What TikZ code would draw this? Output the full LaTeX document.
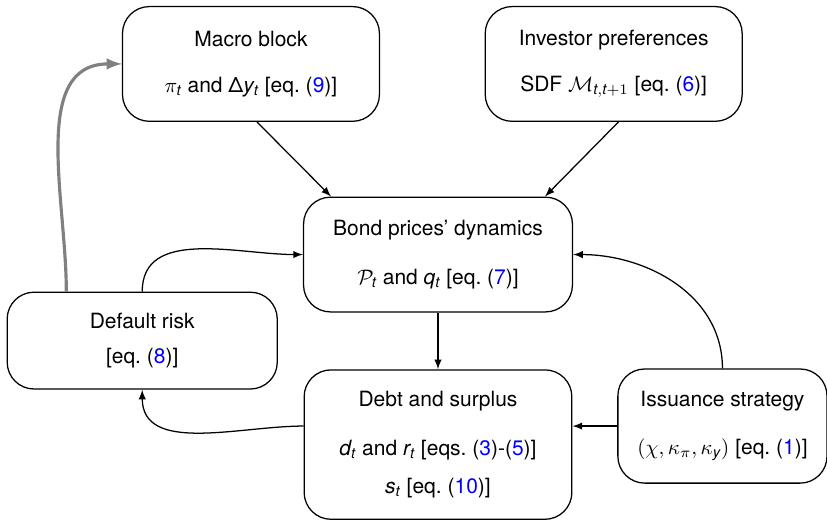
\documentclass[tikz,border=0pt]{standalone}
\usepackage{fontspec}
\setmainfont{TeX Gyre Heros}
\usepackage{xcolor}
\tikzset{>=latex}
\tikzset{block/.style={draw, rounded corners=0.45cm, align=center, line width=0.6pt,
    minimum width=4.3cm, minimum height=1.92cm, inner sep=2pt}}
\newcommand{\eqlink}[1]{(\textcolor{blue}{#1})}

\begin{document}
\begin{tikzpicture}

\useasboundingbox (0,0) rectangle (13.84,-8.72);

% Blocks
\node[block] (macro) at (4.20,-1.07) {Macro block\\[10pt]$\pi_{\mathit{t}}$ and Δ$\mathit{y}_{\mathit{t}}$ [eq.~\eqlink{9}]};
\node[block] (investor) at (10.27,-1.07) {Investor preferences\\[10pt]SDF $\mathcal{M}_{\mathit{t},\mathit{t}+1}$ [eq.~\eqlink{6}]};
\node[block, minimum width=4.5cm] (bond) at (7.33,-4.26) {Bond prices' dynamics\\[11pt]$\mathcal{P}_{\mathit{t}}$ and $\mathit{q}_{\mathit{t}}$ [eq.~\eqlink{7}]};
\node[block, minimum width=4.52cm, minimum height=1.62cm] (default) at (2.38,-5.70) {Default risk\\[5pt][eq.~\eqlink{8}]};
\node[block, minimum width=4.48cm, minimum height=2.5cm] (debt) at (7.33,-7.44) {Debt and surplus\\[11pt]$\mathit{d}_{\mathit{t}}$ and $\mathit{r}_{\mathit{t}}$ [eqs.~\eqlink{3}-\eqlink{5}]\\[6pt]$\mathit{s}_{\mathit{t}}$ [eq.~\eqlink{10}]};
\node[block, minimum width=3.5cm, minimum height=1.91cm] (issue) at (12.09,-7.13) {Issuance strategy\\[11pt]$(\chi,\kappa_\pi,\kappa_{\mathit{y}})$ [eq.~\eqlink{1}]};

% Arrows
\draw[->, line width=0.6pt] ([xshift=0.1cm]macro.south) -- ([xshift=-1.79cm]bond.north);
\draw[->, line width=0.6pt] ([xshift=0.08cm]investor.south) -- ([xshift=1.79cm]bond.north);
\draw[->, line width=0.6pt] (bond.south) -- (debt.north);
\draw[->, line width=0.6pt] (issue.west) -- (issue.west -| debt.east);
\draw[->, line width=0.6pt] (issue.north) to[out=90, in=0] (bond.east);
\draw[->, line width=0.6pt] (default.north) to[out=90, in=180] (bond.west);
\draw[->, line width=0.6pt] (issue.west -| debt.west) to[out=180, in=-90] (default.south);
\draw[->, line width=1.5pt, color=gray] ([xshift=-1.27cm]default.north) to[out=90, in=180] (macro.west);

\end{tikzpicture}
\end{document}
